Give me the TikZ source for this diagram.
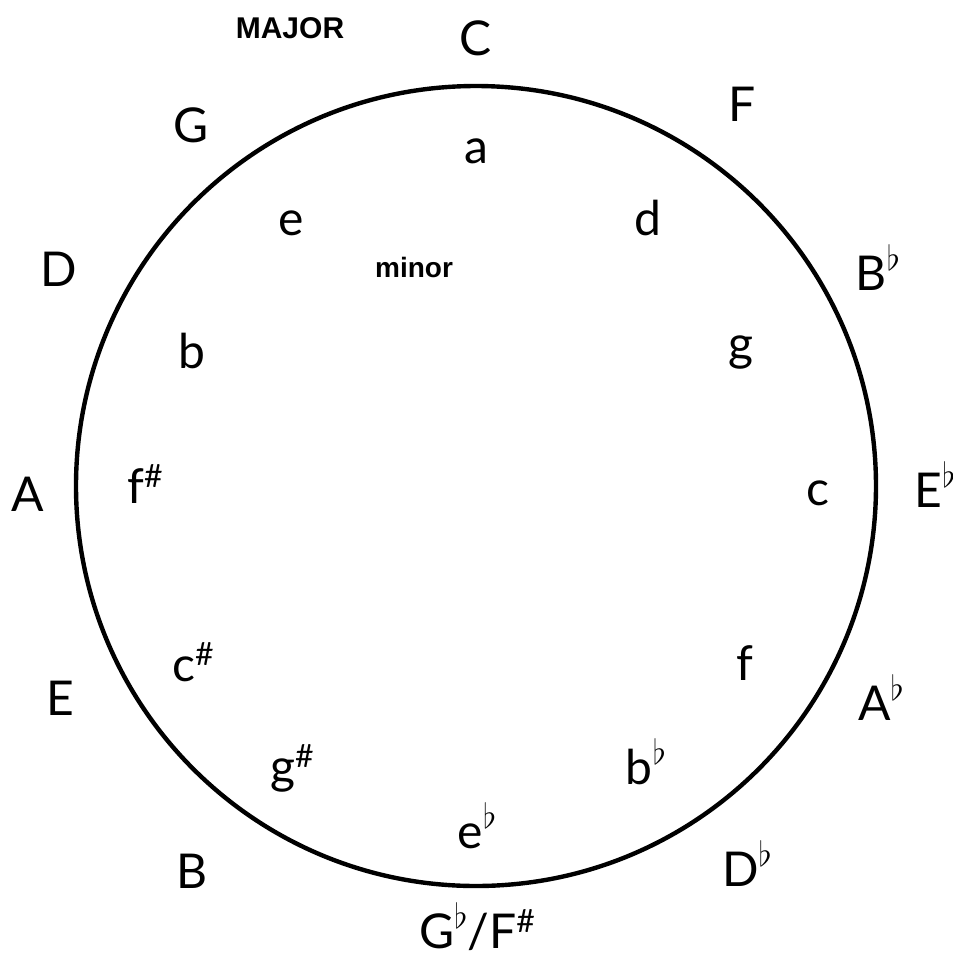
\documentclass[tikz,border=0pt]{standalone}
\usepackage{fontspec}
\setmainfont{Lato}
\newfontfamily\headfont{Liberation Sans}
\usepackage{tikz}
\usetikzlibrary{positioning}
\newcommand{\fl}{\raisebox{10pt}{\fontsize{19}{19}\selectfont$\flat$}}
\newcommand{\sh}{\raisebox{8pt}{\fontsize{16}{16}\selectfont\#}}

\begin{document}
\begin{tikzpicture}[x=0.5pt,y=-0.5pt,
    key/.style={anchor=base, inner sep=0pt, font=\fontsize{24}{28}\selectfont},
    head/.style={anchor=base, inner sep=0pt, font=\headfont\bfseries\fontsize{15}{18}\selectfont}]
    \useasboundingbox (0,0) rectangle (953,960);
    \coordinate (O) at (476,486);
    \draw[line width=2.2pt] (O) circle (400);

    % major keys, outside the ring
    \foreach \name/\x/\y/\txt in {C/476/55/C, F/742/121/F, Bb/878/290/B\fl,
        Eb/935/507/E\fl, Ab/881/720/A\fl, Db/747/886/D\fl,
        B/192/888/B, E/60/715/E, A/28/511/A, D/59/286/D, G/191/142/G}
        \node (maj-\name) at (\x,\y)[key] {\txt};
    \node (maj-Gb) at (477,948)[key] {G\fl/F\sh};

    % minor keys, inside the ring
    \foreach \name/\x/\y/\txt in {a/476/163/a, d/648/235/d, g/741/360/g,
        c/818/505/c, f/745/680/f, bb/646/784/b\fl, eb/477/848/e\fl,
        gs/292/783/g\sh, cs/193/681/c\sh, fs/145/503/f\sh, b/192/368/b,
        e/291/235/e}
        \node (min-\name) at (\x,\y)[key] {\txt};

    \node (major) at (290,38)[head] {MAJOR};
    \node (minor) at (414,277)[head, font=\headfont\bfseries\fontsize{14}{17}\selectfont] {minor};
\end{tikzpicture}
\end{document}
